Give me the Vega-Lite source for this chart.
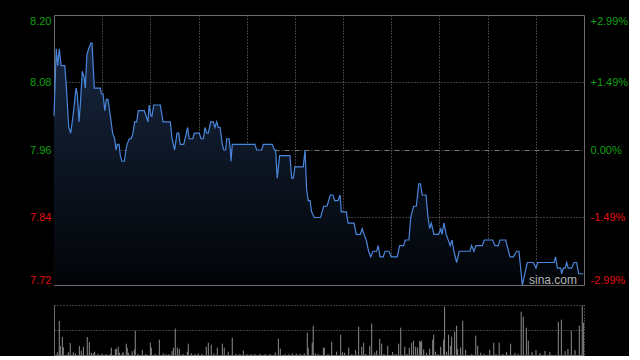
{
  "$schema": "https://vega.github.io/schema/vega-lite/v6.json",
  "background": "#000000",
  "autosize": {"type": "pad"},
  "padding": {"left": 29, "top": 14, "right": 0, "bottom": 0},
  "spacing": 20,
  "bounds": "flush",
  "config": {
    "view": {"stroke": null},
    "axis": {"labelFont": "Liberation Sans", "labelFontSize": 11, "title": null}
  },
  "datasets": {
    "price": [
      {"m": 0, "p": 8.02}, {"m": 1.4, "p": 8.14}, {"m": 2.3, "p": 8.11}, {"m": 3.3, "p": 8.14}, {"m": 4.4, "p": 8.11},
      {"m": 6.7, "p": 8.11}, {"m": 7.5, "p": 8.08}, {"m": 9.2, "p": 8.00}, {"m": 10.4, "p": 7.99}, {"m": 11.8, "p": 8.02},
      {"m": 13.7, "p": 8.07}, {"m": 14.5, "p": 8.06}, {"m": 15.6, "p": 8.01}, {"m": 16.6, "p": 8.05}, {"m": 17.6, "p": 8.10},
      {"m": 18.7, "p": 8.09}, {"m": 19.5, "p": 8.07}, {"m": 20.5, "p": 8.13}, {"m": 21.6, "p": 8.14}, {"m": 22.9, "p": 8.15},
      {"m": 23.7, "p": 8.15}, {"m": 25.1, "p": 8.07}, {"m": 28.8, "p": 8.07}, {"m": 29.5, "p": 8.06}, {"m": 30.5, "p": 8.06},
      {"m": 31.6, "p": 8.03}, {"m": 32.6, "p": 8.05}, {"m": 33.6, "p": 8.05}, {"m": 35.1, "p": 8.02}, {"m": 36.5, "p": 7.99},
      {"m": 37.8, "p": 7.98}, {"m": 38.6, "p": 7.96}, {"m": 39.4, "p": 7.97}, {"m": 40.5, "p": 7.97}, {"m": 41.3, "p": 7.95},
      {"m": 42.3, "p": 7.94}, {"m": 43.8, "p": 7.94}, {"m": 44.8, "p": 7.96}, {"m": 45.5, "p": 7.97}, {"m": 46.9, "p": 7.98},
      {"m": 48.1, "p": 7.98}, {"m": 49.2, "p": 7.99}, {"m": 50.2, "p": 8.01}, {"m": 51.5, "p": 8.01}, {"m": 52.5, "p": 8.03},
      {"m": 56.2, "p": 8.03}, {"m": 57.4, "p": 8.02}, {"m": 58.5, "p": 8.01}, {"m": 59.3, "p": 8.04}, {"m": 60.4, "p": 8.02},
      {"m": 61, "p": 8.02}, {"m": 62.1, "p": 8.04}, {"m": 66.2, "p": 8.04}, {"m": 67.9, "p": 8.01}, {"m": 72.4, "p": 8.01},
      {"m": 73.5, "p": 7.98}, {"m": 75.1, "p": 7.96}, {"m": 76.6, "p": 7.99}, {"m": 77.6, "p": 7.99}, {"m": 78.6, "p": 7.97},
      {"m": 80.8, "p": 7.97}, {"m": 83.2, "p": 8.00}, {"m": 84.2, "p": 7.98}, {"m": 86.4, "p": 7.98}, {"m": 87.4, "p": 7.99},
      {"m": 90.5, "p": 7.99}, {"m": 91.5, "p": 7.98}, {"m": 93, "p": 7.98}, {"m": 94, "p": 8.00}, {"m": 95.1, "p": 7.99},
      {"m": 96.1, "p": 7.99}, {"m": 97.6, "p": 8.01}, {"m": 99.2, "p": 8.01}, {"m": 100.2, "p": 8.00}, {"m": 101.3, "p": 8.01},
      {"m": 102.3, "p": 8.00}, {"m": 103.4, "p": 8.00}, {"m": 104.8, "p": 7.97}, {"m": 105.7, "p": 7.96}, {"m": 106.9, "p": 7.96},
      {"m": 107.5, "p": 7.98}, {"m": 109, "p": 7.98}, {"m": 109.8, "p": 7.96}, {"m": 110.2, "p": 7.94}, {"m": 111, "p": 7.97},
      {"m": 125.1, "p": 7.97}, {"m": 126.2, "p": 7.96}, {"m": 129.3, "p": 7.96}, {"m": 130.3, "p": 7.97}, {"m": 135.9, "p": 7.97},
      {"m": 137.2, "p": 7.96}, {"m": 138, "p": 7.96}, {"m": 139, "p": 7.91}, {"m": 140.5, "p": 7.95}, {"m": 146.9, "p": 7.95},
      {"m": 148, "p": 7.91}, {"m": 149, "p": 7.91}, {"m": 150, "p": 7.93}, {"m": 155.2, "p": 7.93}, {"m": 156.3, "p": 7.96},
      {"m": 157.3, "p": 7.89}, {"m": 158.3, "p": 7.87}, {"m": 159.4, "p": 7.87}, {"m": 160.4, "p": 7.85}, {"m": 162.1, "p": 7.84},
      {"m": 166, "p": 7.84}, {"m": 167.9, "p": 7.86}, {"m": 170, "p": 7.86}, {"m": 172, "p": 7.88}, {"m": 173.7, "p": 7.88},
      {"m": 174.8, "p": 7.87}, {"m": 176.8, "p": 7.87}, {"m": 178.1, "p": 7.88}, {"m": 178.9, "p": 7.85}, {"m": 182, "p": 7.85},
      {"m": 183.1, "p": 7.83}, {"m": 186.8, "p": 7.83}, {"m": 188.2, "p": 7.81}, {"m": 190.7, "p": 7.81}, {"m": 191.9, "p": 7.82},
      {"m": 193, "p": 7.81}, {"m": 194.4, "p": 7.80}, {"m": 195.9, "p": 7.78}, {"m": 197.2, "p": 7.77}, {"m": 198.6, "p": 7.78},
      {"m": 200.9, "p": 7.78}, {"m": 201.9, "p": 7.79}, {"m": 203, "p": 7.77}, {"m": 205, "p": 7.77}, {"m": 206.1, "p": 7.78},
      {"m": 208.6, "p": 7.78}, {"m": 210, "p": 7.77}, {"m": 213.7, "p": 7.77}, {"m": 215.2, "p": 7.79}, {"m": 217.7, "p": 7.79},
      {"m": 218.7, "p": 7.80}, {"m": 221, "p": 7.80}, {"m": 222.1, "p": 7.84}, {"m": 223.9, "p": 7.86}, {"m": 225.6, "p": 7.86},
      {"m": 227.1, "p": 7.90}, {"m": 228.1, "p": 7.90}, {"m": 229.3, "p": 7.88}, {"m": 231.6, "p": 7.88}, {"m": 232.9, "p": 7.84},
      {"m": 233.9, "p": 7.82}, {"m": 234.9, "p": 7.83}, {"m": 236.6, "p": 7.81}, {"m": 239.5, "p": 7.81}, {"m": 240.8, "p": 7.82},
      {"m": 241.6, "p": 7.81}, {"m": 242.8, "p": 7.83}, {"m": 244.2, "p": 7.81}, {"m": 246.7, "p": 7.79}, {"m": 247.8, "p": 7.80},
      {"m": 249, "p": 7.78}, {"m": 250.7, "p": 7.76}, {"m": 252.3, "p": 7.78}, {"m": 259, "p": 7.78}, {"m": 260, "p": 7.79},
      {"m": 261.5, "p": 7.78}, {"m": 262.7, "p": 7.79}, {"m": 266.7, "p": 7.79}, {"m": 267.9, "p": 7.80}, {"m": 273.1, "p": 7.80},
      {"m": 274.6, "p": 7.79}, {"m": 276.6, "p": 7.79}, {"m": 277.7, "p": 7.80}, {"m": 281.2, "p": 7.80}, {"m": 283.9, "p": 7.77},
      {"m": 286, "p": 7.77}, {"m": 288.1, "p": 7.78}, {"m": 289.5, "p": 7.78}, {"m": 291.6, "p": 7.72}, {"m": 294.7, "p": 7.76},
      {"m": 298.4, "p": 7.76}, {"m": 300.1, "p": 7.75}, {"m": 301.2, "p": 7.76}, {"m": 311.3, "p": 7.76}, {"m": 312.3, "p": 7.77},
      {"m": 313.4, "p": 7.75}, {"m": 315.5, "p": 7.75}, {"m": 316.1, "p": 7.74}, {"m": 317.1, "p": 7.75}, {"m": 318.2, "p": 7.75},
      {"m": 319.2, "p": 7.76}, {"m": 320.2, "p": 7.75}, {"m": 322.3, "p": 7.75}, {"m": 323.8, "p": 7.76}, {"m": 325.4, "p": 7.76},
      {"m": 326.7, "p": 7.74}, {"m": 329.6, "p": 7.74}
    ],
    "vol": [
      {"m": 2.1, "v": 2.7}, {"m": 3.3, "v": 34}, {"m": 3.9, "v": 9}, {"m": 5.2, "v": 18}, {"m": 5.8, "v": 7.7},
      {"m": 8.9, "v": 2.7}, {"m": 10.1, "v": 12}, {"m": 12, "v": 2.7}, {"m": 13.3, "v": 1.7}, {"m": 15.8, "v": 9},
      {"m": 17, "v": 4.3}, {"m": 18.3, "v": 8.3}, {"m": 20.7, "v": 18}, {"m": 22, "v": 13}, {"m": 23.2, "v": 2.3},
      {"m": 24.5, "v": 1.7}, {"m": 25.3, "v": 3.3}, {"m": 27.4, "v": 1}, {"m": 29.9, "v": 1.5}, {"m": 32.4, "v": 1},
      {"m": 35, "v": 1}, {"m": 35.7, "v": 7.3}, {"m": 38.2, "v": 5.7}, {"m": 38.8, "v": 6.3}, {"m": 40, "v": 8.3},
      {"m": 40.7, "v": 2.3}, {"m": 42.5, "v": 1.7}, {"m": 43.1, "v": 2.7}, {"m": 45, "v": 11.3}, {"m": 45.6, "v": 7.3},
      {"m": 46.3, "v": 2.3}, {"m": 48.6, "v": 3.7}, {"m": 50, "v": 5.3}, {"m": 50.6, "v": 24.3}, {"m": 52.3, "v": 1},
      {"m": 55, "v": 5.3}, {"m": 57.3, "v": 1}, {"m": 60, "v": 12.3}, {"m": 60.6, "v": 7.3}, {"m": 62.9, "v": 1},
      {"m": 65.6, "v": 15.3}, {"m": 68, "v": 1.7}, {"m": 69.7, "v": 1}, {"m": 71.6, "v": 1}, {"m": 73.5, "v": 3.7},
      {"m": 74.3, "v": 7.3}, {"m": 75.5, "v": 26.3}, {"m": 76.8, "v": 7.3}, {"m": 78, "v": 6.3}, {"m": 80.3, "v": 1},
      {"m": 83, "v": 3.3}, {"m": 83.6, "v": 11.3}, {"m": 85.5, "v": 1.7}, {"m": 87.8, "v": 1}, {"m": 89.8, "v": 1.7},
      {"m": 92.1, "v": 1}, {"m": 94.8, "v": 8.3}, {"m": 96.1, "v": 12.3}, {"m": 97.9, "v": 10.3}, {"m": 99.6, "v": 1.5},
      {"m": 101.7, "v": 7.3}, {"m": 104.8, "v": 11.3}, {"m": 106, "v": 7.3}, {"m": 108.5, "v": 3.3}, {"m": 111, "v": 17.3},
      {"m": 113.3, "v": 1}, {"m": 115.8, "v": 1}, {"m": 117.9, "v": 4.3}, {"m": 120.2, "v": 1}, {"m": 122.8, "v": 1},
      {"m": 125.1, "v": 1}, {"m": 128.3, "v": 1}, {"m": 131.4, "v": 1}, {"m": 134.5, "v": 1}, {"m": 137.8, "v": 2.3},
      {"m": 139.7, "v": 16.3}, {"m": 140.9, "v": 6.3}, {"m": 143.8, "v": 1}, {"m": 146.3, "v": 1}, {"m": 148.4, "v": 1.7},
      {"m": 150.9, "v": 1.3}, {"m": 153.2, "v": 1}, {"m": 155.8, "v": 1.7}, {"m": 157.7, "v": 22.3}, {"m": 158.3, "v": 7.3},
      {"m": 160.8, "v": 12.3}, {"m": 161.4, "v": 29.3}, {"m": 162.7, "v": 1.7}, {"m": 164.4, "v": 1}, {"m": 167.7, "v": 7},
      {"m": 168.3, "v": 7.7}, {"m": 170.6, "v": 1}, {"m": 172.9, "v": 13.3}, {"m": 176, "v": 3.3}, {"m": 178.5, "v": 20.3},
      {"m": 179.7, "v": 2.7}, {"m": 181, "v": 2.3}, {"m": 183.5, "v": 7.3}, {"m": 185.5, "v": 1}, {"m": 187.8, "v": 5},
      {"m": 189.7, "v": 28.3}, {"m": 191.6, "v": 8.3}, {"m": 192.8, "v": 12.3}, {"m": 194.2, "v": 1}, {"m": 196.6, "v": 9.3},
      {"m": 197.8, "v": 31.3}, {"m": 199.7, "v": 2.3}, {"m": 200.9, "v": 4.3}, {"m": 202.8, "v": 16.3}, {"m": 204, "v": 11.3},
      {"m": 205.5, "v": 1}, {"m": 207.8, "v": 9.3}, {"m": 210.9, "v": 3}, {"m": 212.9, "v": 1}, {"m": 214.6, "v": 11.3},
      {"m": 215.9, "v": 27.3}, {"m": 218.4, "v": 8.3}, {"m": 219.8, "v": 1}, {"m": 221.2, "v": 7.3}, {"m": 222.7, "v": 12.3},
      {"m": 223.9, "v": 14.3}, {"m": 225.2, "v": 8.3}, {"m": 226.4, "v": 7.3}, {"m": 227.7, "v": 14.3}, {"m": 228.3, "v": 13},
      {"m": 228.9, "v": 14.3}, {"m": 230.2, "v": 5.7}, {"m": 232, "v": 2.3}, {"m": 233.9, "v": 6.3}, {"m": 235.8, "v": 15.3},
      {"m": 236.4, "v": 20.3}, {"m": 237.6, "v": 3.3}, {"m": 239.1, "v": 1}, {"m": 240.8, "v": 8.3}, {"m": 242.6, "v": 15.3},
      {"m": 243.2, "v": 48.3}, {"m": 244.5, "v": 3.3}, {"m": 245.7, "v": 20.3}, {"m": 247, "v": 9.3}, {"m": 247.6, "v": 18.3},
      {"m": 249.5, "v": 23.3}, {"m": 250.7, "v": 29.3}, {"m": 251.3, "v": 6.3}, {"m": 253.2, "v": 7.3}, {"m": 254.5, "v": 34.3},
      {"m": 256.3, "v": 5.3}, {"m": 260.1, "v": 1}, {"m": 262.6, "v": 19.3}, {"m": 263.8, "v": 9.3}, {"m": 265.7, "v": 2.3},
      {"m": 267.7, "v": 1}, {"m": 271.3, "v": 5.3}, {"m": 273.8, "v": 12.3}, {"m": 275.2, "v": 1}, {"m": 277.2, "v": 12.3},
      {"m": 279.6, "v": 1}, {"m": 281.8, "v": 2.7}, {"m": 284.3, "v": 11.3}, {"m": 287, "v": 2}, {"m": 288.9, "v": 1},
      {"m": 290.9, "v": 43.3}, {"m": 292.2, "v": 38.3}, {"m": 294.1, "v": 27.3}, {"m": 295.3, "v": 14.3}, {"m": 297.6, "v": 3},
      {"m": 300.1, "v": 5}, {"m": 302.6, "v": 2}, {"m": 305.7, "v": 4}, {"m": 308.8, "v": 3}, {"m": 314, "v": 33.3},
      {"m": 315.9, "v": 35.3}, {"m": 318.2, "v": 4}, {"m": 320, "v": 6}, {"m": 322.1, "v": 24.3}, {"m": 324.4, "v": 5},
      {"m": 327.1, "v": 29.3}, {"m": 328.9, "v": 49.3}, {"m": 329.6, "v": 32.3}
    ]
  },
  "vconcat": [
    {
      "width": 530,
      "height": 270,
      "view": {"stroke": "#6e6e6e", "strokeWidth": 1},
      "layer": [
        {
          "data": {"name": "price"},
          "mark": {
            "type": "area",
            "fill": {
              "gradient": "linear", "x1": 0, "y1": 0, "x2": 0, "y2": 1,
              "stops": [{"offset": 0, "color": "#17263f"}, {"offset": 1, "color": "#020407"}]
            }
          },
          "encoding": {
            "x": {
              "field": "m", "type": "quantitative",
              "scale": {"domain": [0, 330], "nice": false, "zero": false},
              "axis": {"values": [30, 60, 90, 120, 150, 180, 210, 240, 270, 300], "labels": false, "ticks": false, "domain": false, "grid": true, "gridColor": "#7a7a7a", "gridDash": [1, 2], "gridWidth": 1}
            },
            "y": {
              "field": "p", "type": "quantitative",
              "scale": {"domain": [7.72, 8.20], "nice": false, "zero": false},
              "axis": {
                "orient": "left",
                "values": [7.72, 7.84, 7.96, 8.08, 8.20],
                "format": ".2f",
                "ticks": false, "domain": false, "labelPadding": 3, "labelFlush": true,
                "labelColor": {"condition": {"test": "datum.value < 7.95", "value": "#e01010"}, "value": "#10a010"},
                "grid": true, "gridColor": "#7a7a7a", "gridWidth": 1,
                "gridDash": {"condition": {"test": "abs(datum.value - 7.96) < 0.001", "value": [5, 2, 1, 2]}, "value": [1, 2]},
                "gridOpacity": {"condition": {"test": "datum.value < 7.73 || datum.value > 8.19", "value": 0}, "value": 1}
              }
            },
            "y2": {"datum": 7.72}
          }
        },
        {
          "data": {"name": "price"},
          "mark": {"type": "line", "stroke": "#4a86dc", "strokeWidth": 1.2, "interpolate": "linear"},
          "encoding": {
            "x": {"field": "m", "type": "quantitative", "scale": {"domain": [0, 330], "nice": false, "zero": false}},
            "y": {
              "field": "p", "type": "quantitative",
              "scale": {"domain": [7.72, 8.20], "nice": false, "zero": false},
              "axis": {
                "orient": "right",
                "values": [7.72, 7.84, 7.96, 8.08, 8.20],
                "ticks": false, "domain": false, "grid": false, "labelPadding": 6, "labelFlush": true,
                "labelExpr": "datum.value > 8.14 ? '+2.99%' : datum.value > 8.02 ? '+1.49%' : datum.value > 7.90 ? '0.00%' : datum.value > 7.78 ? '-1.49%' : '-2.99%'",
                "labelColor": {"condition": {"test": "datum.value < 7.95", "value": "#e01010"}, "value": "#10a010"}
              }
            }
          }
        },
        {
          "data": {"values": [{}]},
          "mark": {"type": "text", "text": "sina.com", "font": "Liberation Sans", "fontSize": 12, "color": "#b4b4b4", "align": "center", "baseline": "alphabetic", "dy": -1},
          "encoding": {
            "x": {"datum": 310.7, "type": "quantitative"},
            "y": {"datum": 7.72, "type": "quantitative", "axis": null}
          }
        }
      ],
      "resolve": {"axis": {"y": "independent"}}
    },
    {
      "width": 530,
      "height": 50,
      "data": {"name": "vol"},
      "mark": {"type": "rule", "stroke": "#8c8c8c", "strokeWidth": 1},
      "encoding": {
        "x": {
          "field": "m", "type": "quantitative",
          "scale": {"domain": [0, 330], "nice": false, "zero": false},
          "axis": {"values": [330], "labels": false, "ticks": false, "domain": true, "domainColor": "#6e6e6e", "grid": true, "gridColor": "#7a7a7a", "gridDash": [1, 2]}
        },
        "y": {
          "field": "v", "type": "quantitative",
          "scale": {"domain": [0, 50], "nice": false},
          "axis": {"values": [25, 50], "labels": false, "ticks": false, "domain": true, "domainColor": "#6e6e6e", "grid": true, "gridColor": "#7a7a7a", "gridDash": [1, 2]}
        },
        "y2": {"datum": 0}
      }
    }
  ]
}
